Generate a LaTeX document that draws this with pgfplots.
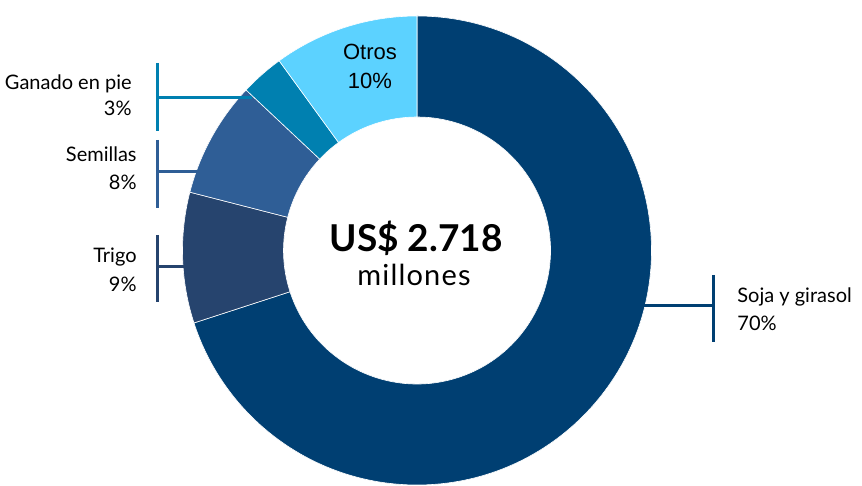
\documentclass[border=0pt]{standalone}
\usepackage{pgfplots}
\pgfplotsset{compat=1.18}
\usepackage{pgfplotstable}
\usepackage{fontspec}
\setmainfont{Lato}
\newfontfamily\otrosfont{Liberation Sans}

\definecolor{csoja}{RGB}{0,63,114}
\definecolor{ctrigo}{RGB}{38,68,110}
\definecolor{csem}{RGB}{47,94,150}
\definecolor{cgan}{RGB}{0,128,176}
\definecolor{cotros}{RGB}{92,210,255}
\colorlet{slice0}{csoja}
\colorlet{slice1}{ctrigo}
\colorlet{slice2}{csem}
\colorlet{slice3}{cgan}
\colorlet{slice4}{cotros}

% slices: share (%), cumulative start (%), colour index
\pgfplotstableread{
label    pct start idx
Soja     70  0    0
Trigo    9   70   1
Semillas 8   79   2
Ganado   3   87   3
Otros    10  90   4
}\slices

\begin{document}
\begin{tikzpicture}
\begin{axis}[
  x=0.5pt, y=0.5pt,
  xmin=0, xmax=862, ymin=0, ymax=486,
  y dir=reverse,
  hide axis,
  clip=false,
  set layers,
]
\path (axis cs:0,0) rectangle (axis cs:862,486);

% donut: each row drawn as a ring sector at the chart centre
\addplot[
  only marks, scatter, mark=*, mark size=0pt,
  visualization depends on={\thisrow{pct}\as\ppct},
  visualization depends on={\thisrow{start}\as\pstart},
  visualization depends on={\thisrow{idx}\as\pidx},
  scatter/@pre marker code/.code={%
    \pgfmathsetmacro\aa{90-3.6*\pstart}%
    \pgfmathsetmacro\bb{90-3.6*(\pstart+\ppct)}%
    \pgfmathtruncatemacro\ci{\pidx}%
    \fill[slice\ci, draw=white, line width=0.3pt]
      (\aa:117.25pt) arc[start angle=\aa, end angle=\bb, radius=117.25pt]
      -- (\bb:66.75pt) arc[start angle=\bb, end angle=\aa, radius=66.75pt] -- cycle;
  },
  scatter/@post marker code/.code={},
] table[x expr=417, y expr=250.5] {\slices};

\pgfonlayer{axis foreground}
% leader lines
\draw[csoja, line width=1.5pt] (axis cs:640,306) -- (axis cs:713,306);
\draw[csoja, line width=1.5pt] (axis cs:713,275) -- (axis cs:713,342);
\draw[ctrigo, line width=1.5pt] (axis cs:186,267) -- (axis cs:157,267);
\draw[ctrigo, line width=1.5pt] (axis cs:157,235) -- (axis cs:157,302);
\draw[csem, line width=1.5pt] (axis cs:197,171.5) -- (axis cs:157,171.5);
\draw[csem, line width=1.5pt] (axis cs:157,140) -- (axis cs:157,208);
\draw[cgan, line width=1.5pt] (axis cs:252,97.5) -- (axis cs:157,97.5);
\draw[cgan, line width=1.5pt] (axis cs:157,63) -- (axis cs:157,131);

% labels
\tikzset{lbl/.style={font=\fontsize{10}{12}\selectfont, text=black, inner sep=0pt}}
\node[lbl, anchor=base east] at (axis cs:132,90) {Ganado en pie};
\node[lbl, anchor=base east] at (axis cs:132,115.7) {3\%};
\node[lbl, anchor=base east] at (axis cs:137,161.7) {Semillas};
\node[lbl, anchor=base east] at (axis cs:137,190) {8\%};
\node[lbl, anchor=base east] at (axis cs:137,262.7) {Trigo};
\node[lbl, anchor=base east] at (axis cs:137,292) {9\%};
\node[lbl, anchor=base west] at (axis cs:737,302.7) {Soja y girasol};
\node[lbl, anchor=base west] at (axis cs:737,331) {70\%};
\node[inner sep=0pt, anchor=base, font=\otrosfont\fontsize{11}{13}\selectfont] at (axis cs:370,59.3) {Otros};
\node[inner sep=0pt, anchor=base, font=\otrosfont\fontsize{11}{13}\selectfont] at (axis cs:370,88.3) {10\%};

% centre text
\node[inner sep=0pt, anchor=base, font=\bfseries\fontsize{18.5}{20}\selectfont] at (axis cs:416,251.7) {US\$ 2.718};
\node[inner sep=0pt, anchor=base, font=\addfontfeature{LetterSpace=4}\fontsize{14.5}{16}\selectfont] at (axis cs:414,286) {millones};
\endpgfonlayer
\end{axis}
\end{tikzpicture}
\end{document}
